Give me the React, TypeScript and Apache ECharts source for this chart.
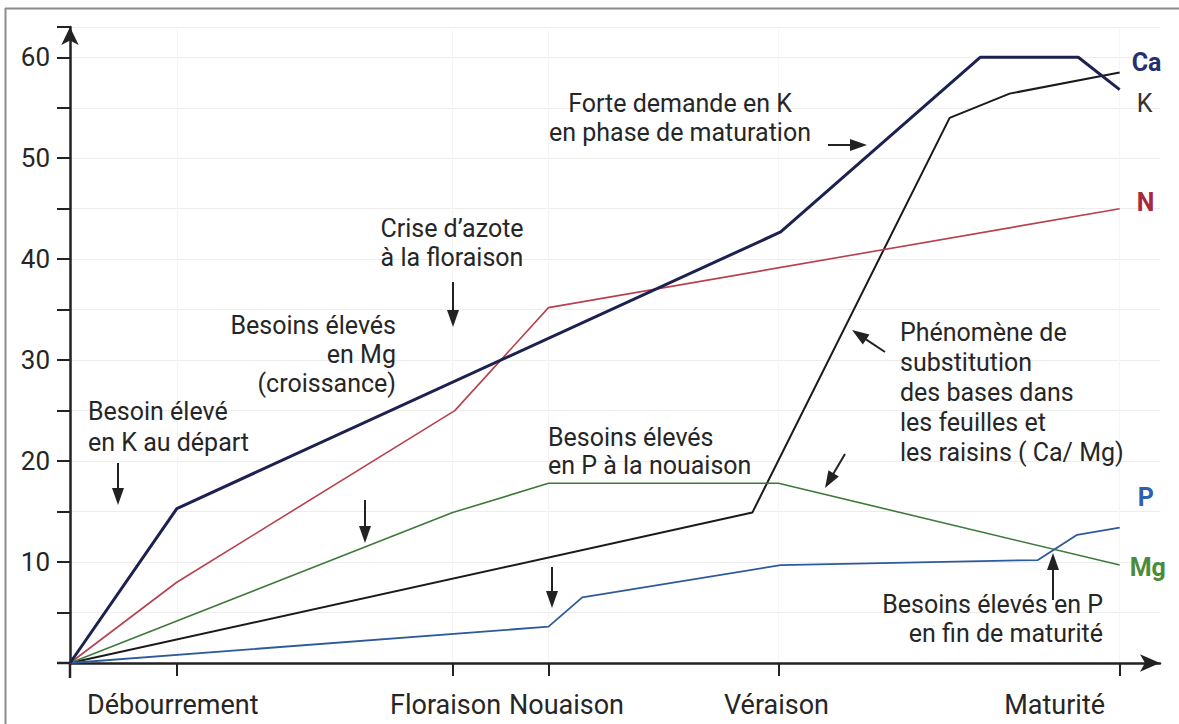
import React, { useEffect, useRef } from "react";
import * as echarts from "echarts";

// Stages along the season (x axis, arbitrary time units 0..100)
const stageNames = ["Débourrement", "Floraison", "Nouaison", "Véraison", "Maturité"];
const stageX = [9.8, 35.1, 43.9, 65.0, 96.3];

// Y ticks
const yTickValues = [10, 20, 30, 40, 50, 60];

// Series values [x, y]
const caData = [[0, 0], [9.8, 15.3], [65.2, 42.7], [83.5, 60], [92.5, 60], [96.3, 56.8]];
const kData = [[0, 0], [62.6, 14.9], [80.7, 54], [86.2, 56.4], [96.3, 58.5]];
const nData = [[0, 0], [9.8, 8], [35.3, 25], [43.9, 35.2], [96.3, 45]];
const mgData = [[0, 0], [35.1, 14.9], [43.9, 17.8], [65.0, 17.8], [96.3, 9.7]];
const pData = [[0, 0], [43.9, 3.6], [47.0, 6.5], [65.2, 9.7], [88.8, 10.2], [92.4, 12.7], [96.3, 13.4]];

const FONT = "Roboto, 'Liberation Sans', sans-serif";
const TXT = "#262626";

function arrow(x1: number, y1: number, x2: number, y2: number) {
  const dx = x2 - x1, dy = y2 - y1;
  const L = Math.hypot(dx, dy);
  const ux = dx / L, uy = dy / L;
  const hl = 17, hw = 6;
  const bx = x2 - ux * hl, by = y2 - uy * hl;
  return [
    { type: "line", shape: { x1, y1, x2: bx + ux * 2, y2: by + uy * 2 }, style: { stroke: "#222", lineWidth: 2 }, z: 10 },
    {
      type: "polygon",
      shape: { points: [[x2, y2], [bx - uy * hw, by + ux * hw], [bx + uy * hw, by - ux * hw]] },
      style: { fill: "#222" },
      z: 10,
    },
  ];
}

function txt(text: string, x: number, y: number, align: string, lineHeight = 29, size = 25) {
  return {
    type: "text",
    z: 10,
    style: {
      text,
      x,
      y,
      align,
      verticalAlign: "top",
      font: `${size}px ${FONT}`,
      fill: TXT,
      lineHeight,
    },
  };
}

export default function App() {
  const ref = useRef<HTMLDivElement>(null);
  useEffect(() => {
    if (!ref.current) return;
    const chart = echarts.init(ref.current, undefined, { renderer: "svg" });
    const GL = 70, GR = 19, GT = 27, GB = 61;
    const xMax = 100;
    const W = 1179 - GL - GR;
    const px = (u: number) => GL + (u / xMax) * W;

    const xLabelOffsets = [-4, -7, 18, -2, -65];
    const xLabels = stageNames.map((s, i) => ({
      type: "text",
      style: {
        text: s,
        x: px(stageX[i]) + xLabelOffsets[i],
        y: 705,
        align: "center",
        verticalAlign: "middle",
        font: `27px ${FONT}`,
        fill: TXT,
      },
    }));

    const graphic: any[] = [
      { type: "line", shape: { x1: 5, y1: 8.5, x2: 1179, y2: 8.5 }, style: { stroke: "#8c8c8c", lineWidth: 2 } },
      { type: "line", shape: { x1: 5.5, y1: 8, x2: 5.5, y2: 724 }, style: { stroke: "#8c8c8c", lineWidth: 2 } },
      // axis extensions past the origin
      { type: "line", shape: { x1: 57, y1: 663, x2: 70, y2: 663 }, style: { stroke: "#222", lineWidth: 2.5 } },
      { type: "line", shape: { x1: 70, y1: 663, x2: 70, y2: 678 }, style: { stroke: "#222", lineWidth: 2.5 } },
      ...xLabels,
      txt("Besoin élevé\nen K au départ", 88, 396, "left", 31),
      txt("Besoins élevés\nen Mg\n(croissance)", 396, 311, "right", 29),
      txt("Crise d’azote\nà la floraison", 452, 214, "center", 29),
      txt("Forte demande en K\nen phase de maturation", 680, 89, "center", 29),
      txt("Phénomène de\nsubstitution\ndes bases dans\nles feuilles et\nles raisins ( Ca/ Mg)", 900, 317, "left", 30),
      txt("Besoins élevés\nen P à la nouaison", 548, 423, "left", 28),
      txt("Besoins élevés en P\nen fin de maturité", 1103, 590, "right", 29),
      ...arrow(118, 463, 118, 505),
      ...arrow(365, 500, 365, 543),
      ...arrow(453, 282, 453, 327),
      ...arrow(828, 145, 867, 145),
      ...arrow(885, 352, 852, 330),
      ...arrow(552, 567, 552, 608),
      ...arrow(845, 454, 825, 488),
      ...arrow(1053, 600, 1053, 553),
    ];

    const mk = (name: string, data: number[][], color: string, width: number, labelColor: string, offset: number[], bold = true) => ({
      name,
      type: "line",
      data,
      symbol: "none",
      lineStyle: { color, width },
      itemStyle: { color },
      z: name === "Ca" ? 5 : 4,
      endLabel: {
        show: true,
        formatter: name,
        offset,
        distance: 5,
        color: labelColor,
        fontFamily: FONT,
        fontSize: 25,
        fontWeight: bold ? "bold" : "normal",
      },
    });

    chart.setOption({
      animation: false,
      backgroundColor: "#ffffff",
      grid: { left: GL, right: GR, top: GT, bottom: GB, containLabel: false },
      xAxis: {
        type: "value",
        min: 0,
        max: xMax,
        axisLine: { show: true, onZero: false, lineStyle: { color: "#222", width: 2.5 }, symbol: ["none", "arrow"], symbolSize: [13, 20] },
        axisTick: { show: true, customValues: stageX, length: 13, lineStyle: { color: "#222", width: 2 } },
        axisLabel: { show: false },
        splitLine: { show: true, lineStyle: { color: "#f5f5f5", width: 1 } },
      },
      yAxis: {
        type: "value",
        min: 0,
        max: 63,
        interval: 5,
        axisLine: { show: true, onZero: false, lineStyle: { color: "#222", width: 2.5 }, symbol: ["none", "arrow"], symbolSize: [13, 18] },
        axisTick: { show: true, length: 13, lineStyle: { color: "#222", width: 2 } },
        axisLabel: {
          show: true,
          margin: 20,
          fontFamily: FONT,
          fontSize: 26,
          color: TXT,
          formatter: (v: number) => (yTickValues.includes(v) ? String(v) : ""),
        },
        splitLine: { show: true, lineStyle: { color: "#ededed", width: 1 } },
      },
      series: [
        mk("Ca", caData, "#1d2150", 3, "#243070", [7, -27]),
        mk("K", kData, "#1a1a1a", 2, "#333333", [12, 31], false),
        mk("N", nData, "#b8404f", 1.6, "#a8283c", [12, -6]),
        mk("Mg", mgData, "#3d7a3a", 1.6, "#4b8c3c", [5, 2]),
        mk("P", pData, "#2e5a9a", 1.8, "#2f5fb0", [13, -30]),
      ],
      graphic,
    });
    return () => chart.dispose();
  }, []);
  return <div ref={ref} style={{ position: "fixed", left: 0, top: 0, width: 1179, height: 724, background: "#fff" }} />;
}
